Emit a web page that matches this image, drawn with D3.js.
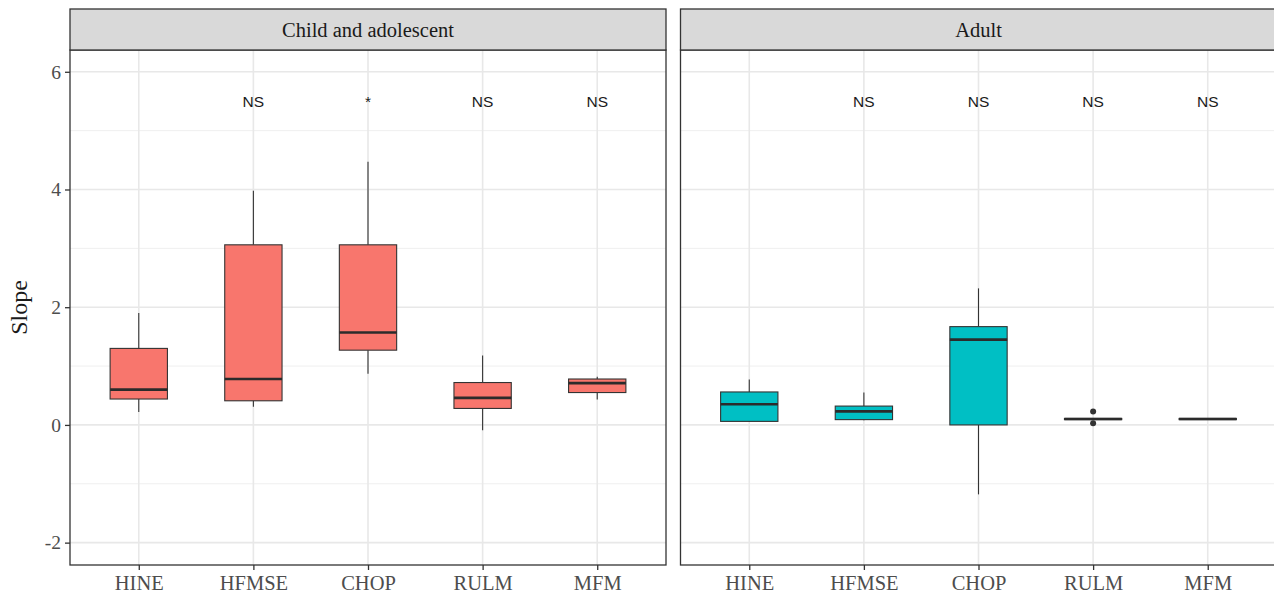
<!DOCTYPE html>
<html>
<head>
<meta charset="utf-8">
<script src="https://cdn.jsdelivr.net/npm/d3@7"></script>
<style>
  body { margin: 0; background: #fff; }
  svg { display: block; }
</style>
</head>
<body>
<svg id="chart" width="1274" height="599"></svg>
<script>
// values
const categories = ["HINE", "HFMSE", "CHOP", "RULM", "MFM"];
const panels = ["Child and adolescent", "Adult"];

const childMin = [0.22, 0.31, 0.87, -0.09, 0.43];
const childQ1  = [0.44, 0.41, 1.27, 0.28, 0.55];
const childMed = [0.60, 0.78, 1.57, 0.46, 0.71];
const childQ3  = [1.30, 3.06, 3.06, 0.72, 0.78];
const childMax = [1.90, 3.98, 4.47, 1.18, 0.82];

const adultMin = [0.05, 0.08, -1.18, 0.09, 0.09];
const adultQ1  = [0.06, 0.09, 0.00, 0.09, 0.09];
const adultMed = [0.35, 0.23, 1.45, 0.10, 0.10];
const adultQ3  = [0.56, 0.32, 1.67, 0.11, 0.11];
const adultMax = [0.77, 0.55, 2.32, 0.11, 0.11];

// outliers: [category, value]
const adultOutliers = [["RULM", 0.23], ["RULM", 0.03]];
const childOutliers = [];

const childSignif = ["", "NS", "*", "NS", "NS"];
const adultSignif = ["", "NS", "NS", "NS", "NS"];
const signifY = 5.5;

const yMajor = [-2, 0, 2, 4, 6];
const yMinor = [-1, 1, 3, 5];

const fills = ["#F8766D", "#00BFC4"];

function makeBoxes(mn, q1, md, q3, mx) {
  return categories.map((c, i) => ({cat: c, min: mn[i], q1: q1[i], med: md[i], q3: q3[i], max: mx[i]}));
}

const panelData = [
  {title: panels[0], boxes: makeBoxes(childMin, childQ1, childMed, childQ3, childMax), outliers: childOutliers, signif: childSignif, fill: fills[0]},
  {title: panels[1], boxes: makeBoxes(adultMin, adultQ1, adultMed, adultQ3, adultMax), outliers: adultOutliers, signif: adultSignif, fill: fills[1]}
];

const svg = d3.select("#chart");
const panelW = 596, panelTop = 50, panelBottom = 565, stripTop = 9;
const panelLefts = [70, 680.5];
const serif = "'Liberation Serif', 'Times New Roman', serif";
const sans = "'Liberation Sans', Arial, sans-serif";

const x = d3.scalePoint().domain(categories).range([0, panelW]).padding(0.6);
const y = d3.scaleLinear().domain([-2.38, 6.37]).range([panelBottom, panelTop]);
const boxW = x.step() * 0.5;

panelData.forEach((p, pi) => {
  const g = svg.append("g").attr("transform", `translate(${panelLefts[pi]},0)`);

  // grid
  g.append("g").selectAll("line").data(yMinor).enter().append("line")
    .attr("x1", 0).attr("x2", panelW)
    .attr("y1", d => y(d)).attr("y2", d => y(d))
    .attr("stroke", "#EFEFEF").attr("stroke-width", 1);
  g.append("g").selectAll("line").data(yMajor).enter().append("line")
    .attr("x1", 0).attr("x2", panelW)
    .attr("y1", d => y(d)).attr("y2", d => y(d))
    .attr("stroke", "#E8E8E8").attr("stroke-width", 1.6);
  g.append("g").selectAll("line").data(categories).enter().append("line")
    .attr("x1", d => x(d)).attr("x2", d => x(d))
    .attr("y1", panelTop).attr("y2", panelBottom)
    .attr("stroke", "#E8E8E8").attr("stroke-width", 1.6);

  // whiskers
  const box = g.append("g").selectAll("g").data(p.boxes).enter().append("g");
  box.append("line")
    .attr("x1", d => x(d.cat)).attr("x2", d => x(d.cat))
    .attr("y1", d => y(d.max)).attr("y2", d => y(d.q3))
    .attr("stroke", "#333").attr("stroke-width", 1.1);
  box.append("line")
    .attr("x1", d => x(d.cat)).attr("x2", d => x(d.cat))
    .attr("y1", d => y(d.q1)).attr("y2", d => y(d.min))
    .attr("stroke", "#333").attr("stroke-width", 1.1);
  box.append("rect")
    .attr("x", d => x(d.cat) - boxW / 2).attr("width", boxW)
    .attr("y", d => y(d.q3)).attr("height", d => Math.max(y(d.q1) - y(d.q3), 0.5))
    .attr("fill", p.fill).attr("stroke", "#333").attr("stroke-width", 1.1);
  box.append("line")
    .attr("x1", d => x(d.cat) - boxW / 2).attr("x2", d => x(d.cat) + boxW / 2)
    .attr("y1", d => y(d.med)).attr("y2", d => y(d.med))
    .attr("stroke", "#2b2b2b").attr("stroke-width", 2.6);

  // outliers
  g.append("g").selectAll("circle").data(p.outliers).enter().append("circle")
    .attr("cx", d => x(d[0])).attr("cy", d => y(d[1])).attr("r", 3)
    .attr("fill", "#333");

  // significance labels
  g.append("g").selectAll("text").data(categories).enter().append("text")
    .attr("x", d => x(d)).attr("y", y(signifY))
    .attr("text-anchor", "middle").attr("dominant-baseline", "central")
    .attr("font-family", sans).attr("font-size", 15.5).attr("fill", "#1a1a1a")
    .text((d, i) => p.signif[i]);

  // panel border
  g.append("rect")
    .attr("x", 0).attr("y", panelTop).attr("width", panelW).attr("height", panelBottom - panelTop)
    .attr("fill", "none").attr("stroke", "#333").attr("stroke-width", 1.3);

  // strip
  g.append("rect")
    .attr("x", 0).attr("y", stripTop).attr("width", panelW).attr("height", panelTop - stripTop)
    .attr("fill", "#D9D9D9").attr("stroke", "#333").attr("stroke-width", 1.3);
  g.append("text")
    .attr("x", panelW / 2).attr("y", (stripTop + panelTop) / 2)
    .attr("text-anchor", "middle").attr("dominant-baseline", "central")
    .attr("font-family", serif).attr("font-size", 20.5).attr("fill", "#1a1a1a")
    .text(p.title);

  // x axis
  const xa = g.append("g").attr("transform", `translate(0,${panelBottom})`)
    .call(d3.axisBottom(x).tickSize(5).tickPadding(5));
  xa.select(".domain").remove();
  xa.selectAll("line").attr("stroke", "#333").attr("stroke-width", 1.3);
  xa.selectAll("text").attr("font-family", serif).attr("font-size", 20.5).attr("fill", "#4D4D4D");

  // y axis only on the first panel
  if (pi === 0) {
    const ya = g.append("g")
      .call(d3.axisLeft(y).tickValues(yMajor).tickFormat(d => String(d)).tickSize(5).tickPadding(4));
    ya.select(".domain").remove();
    ya.selectAll("line").attr("stroke", "#333").attr("stroke-width", 1.3);
    ya.selectAll("text").attr("font-family", serif).attr("font-size", 19.5).attr("fill", "#4D4D4D");
  }
});

svg.append("text")
  .attr("transform", `translate(19,${(panelTop + panelBottom) / 2}) rotate(-90)`)
  .attr("text-anchor", "middle").attr("dominant-baseline", "central")
  .attr("font-family", serif).attr("font-size", 24).attr("fill", "#1a1a1a")
  .text("Slope");
</script>
</body>
</html>
